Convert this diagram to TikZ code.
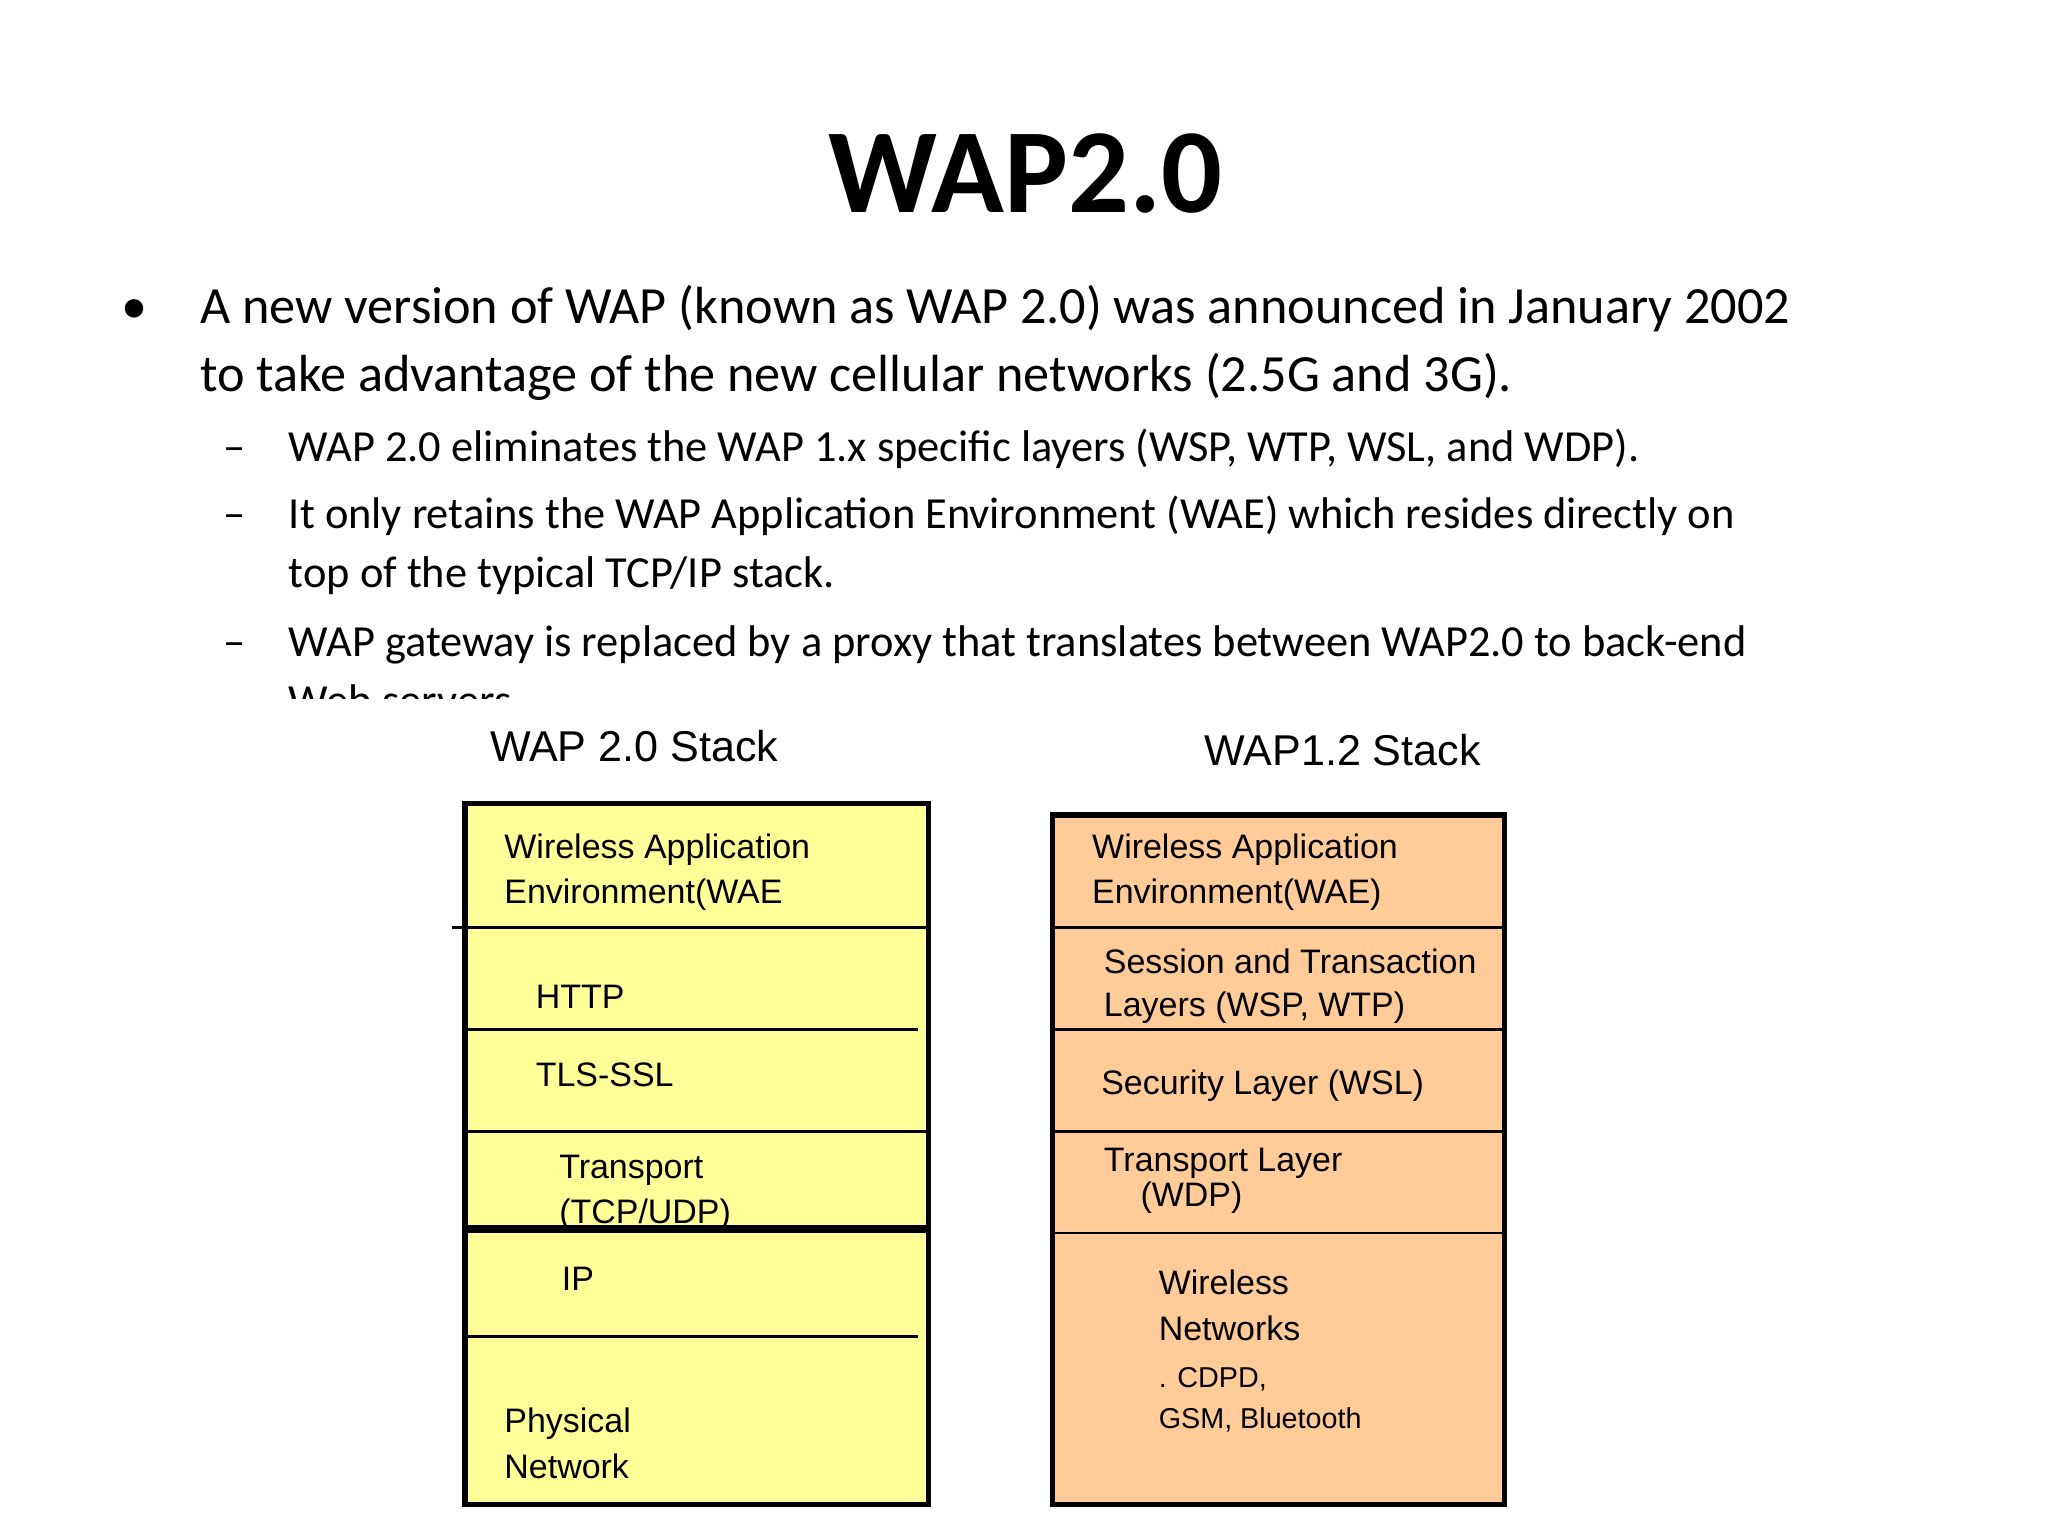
\documentclass[tikz,border=0pt]{standalone}
\usepackage{fontspec}
\setmainfont{Carlito}
\newfontfamily\boxfont{Liberation Sans}
\begin{document}
\begin{tikzpicture}[x=1pt,y=-1pt,
  tx/.style={anchor=base west,inner sep=0},
  bt/.style={tx,font=\boxfont\fontsize{26}{28}\selectfont},
  bts/.style={tx,font=\boxfont\fontsize{22}{24}\selectfont},
  hd/.style={tx,font=\boxfont\fontsize{33}{36}\selectfont},
  l1/.style={tx,font=\fontsize{40}{48}\selectfont},
  l2/.style={tx,font=\fontsize{34}{40}\selectfont},
  frame/.style={draw=black,line width=4},
  sep/.style={draw=black,line width=2.2}]
\useasboundingbox (0,0) rectangle (1568,1176);
\node[anchor=base,inner sep=0,font=\bfseries\fontsize{92}{100}\selectfont] (title) at (785,163) {WAP2.0};
\node[tx,font=\fontsize{40}{48}\selectfont] (b1) at (93,248) {•};
\node[l1] (t1) at (153,248) {A new version of WAP (known as WAP 2.0) was announced in January 2002};
\node[l1] (t2) at (153,300) {to take advantage of the new cellular networks (2.5G and 3G).};
\node[l2] (d1) at (171,353) {–};
\node[l2] (s1) at (221,353) {WAP 2.0 eliminates the WAP 1.x specific layers (WSP, WTP, WSL, and WDP).};
\node[l2] (d2) at (171,405) {–};
\node[l2] (s2) at (221,405) {It only retains the WAP Application Environment (WAE) which resides directly on};
\node[l2] (s3) at (221,450) {top of the typical TCP/IP stack.};
\node[l2] (d3) at (171,503) {–};
\node[l2] (s4) at (221,503) {WAP gateway is replaced by a proxy that translates between WAP2.0 to back-end};
\begin{scope}
\clip (0,0) rectangle (1568,535);
\node[l2] (s5) at (221,548) {Web servers.};
\end{scope}
% headings
\node[hd] (h1) at (375,583) {WAP 2.0 Stack};
\node[hd] (h2) at (922,586) {WAP1.2 Stack};
% left stack
\fill[yellow!45!white,fill={rgb,255:red,255;green,255;blue,153}] (356,615) rectangle (711,1152);
\node[bt] at (386,657) {Wireless Application};
\node[bt] at (386,692) {Environment(WAE};
\node[bt] at (410,772) {HTTP};
\node[bt] at (410,832) {TLS-SSL};
\node[bt] at (428,902) {Transport};
\node[bt] at (428,937) {(TCP/UDP)};
\node[bt] at (430,988) {IP};
\node[bt] at (386,1097) {Physical};
\node[bt] at (386,1132) {Network};
\draw[sep] (346,710) -- (711,710);
\draw[sep] (356,788) -- (703,788);
\draw[sep] (356,866) -- (711,866);
\draw[draw=black,line width=6] (356,941) -- (711,941);
\draw[sep] (356,1023) -- (703,1023);
\draw[frame] (356,615) rectangle (711,1152);
% right stack
\fill[fill={rgb,255:red,255;green,204;blue,153}] (806,624) rectangle (1152,1152);
\node[bt] at (836,657) {Wireless Application};
\node[bt] at (836,692) {Environment(WAE)};
\node[bt] at (845,745) {Session and Transaction};
\node[bt] at (845,778) {Layers (WSP, WTP)};
\node[bt] at (843,838) {Security Layer (WSL)};
\node[bt] at (845,897) {Transport Layer};
\node[bt] at (873,924) {(WDP)};
\node[bt] at (887,991) {Wireless};
\node[bt] at (887,1026) {Networks};
\node[bts] at (887,1062) {. CDPD,};
\node[bts] at (887,1094) {GSM, Bluetooth};
\draw[sep] (806,710) -- (1152,710);
\draw[sep] (806,788) -- (1152,788);
\draw[sep] (806,866) -- (1152,866);
\draw[sep] (806,944) -- (1152,944);
\draw[frame] (806,624) rectangle (1152,1152);
\end{tikzpicture}
\end{document}
